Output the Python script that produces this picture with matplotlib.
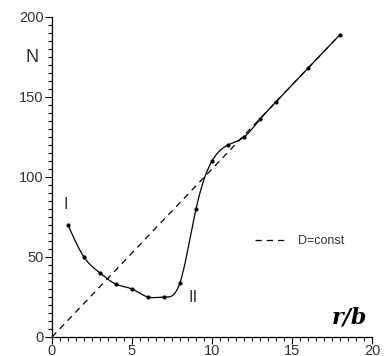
import numpy as np
import matplotlib
matplotlib.use("Agg")
import matplotlib.pyplot as plt
from matplotlib.ticker import MultipleLocator

# measured points
r_b = [1, 2, 3, 4, 5, 6, 7, 8, 9, 10, 11, 12, 13, 14, 16, 18]
n_vals = [70, 50, 40, 33, 30, 25, 25, 34, 80, 110, 120, 125, 136, 147, 168, 189]

# D=const reference line
const_x = [0, 18]
const_slope = 10.5


def natural_spline(x, y, num=400):
    # natural cubic spline through the points, only for drawing the smooth curve
    x = np.asarray(x, float)
    y = np.asarray(y, float)
    n = len(x)
    h = np.diff(x)
    A = np.zeros((n, n))
    b = np.zeros(n)
    A[0, 0] = 1
    A[-1, -1] = 1
    for i in range(1, n - 1):
        A[i, i - 1] = h[i - 1]
        A[i, i] = 2 * (h[i - 1] + h[i])
        A[i, i + 1] = h[i]
        b[i] = 3 * ((y[i + 1] - y[i]) / h[i] - (y[i] - y[i - 1]) / h[i - 1])
    c = np.linalg.solve(A, b)
    xs = np.linspace(x[0], x[-1], num)
    ys = np.empty_like(xs)
    for k, xv in enumerate(xs):
        i = min(np.searchsorted(x, xv, side="right") - 1, n - 2)
        dx = xv - x[i]
        bi = (y[i + 1] - y[i]) / h[i] - h[i] * (2 * c[i] + c[i + 1]) / 3
        di = (c[i + 1] - c[i]) / (3 * h[i])
        ys[k] = y[i] + bi * dx + c[i] * dx**2 + di * dx**3
    return xs, ys


plt.rcParams["font.family"] = ["Liberation Sans", "DejaVu Sans"]

fig = plt.figure(figsize=(3.84, 3.56), dpi=100)
ax = fig.add_axes([52 / 384, 1 - 337 / 356, 320 / 384, 320 / 356])

xs, ys = natural_spline(r_b, n_vals)
ax.plot(xs, ys, color="black", linewidth=0.9)
ax.plot(r_b, n_vals, linestyle="none", marker="o", markersize=2, color="black")

cx = np.array(const_x, float)
ax.plot(cx, const_slope * cx, color="black", linewidth=0.9,
        linestyle=(0, (5, 4)), label="D=const")

ax.set_xlim(0, 20)
ax.set_ylim(0, 200)
ax.xaxis.set_major_locator(MultipleLocator(5))
ax.xaxis.set_minor_locator(MultipleLocator(0.5))
ax.yaxis.set_major_locator(MultipleLocator(50))
ax.yaxis.set_minor_locator(MultipleLocator(5))
ax.tick_params(which="major", direction="out", length=5, width=0.8,
               labelsize=10.5, labelcolor="#333333", pad=1)
ax.tick_params(axis="x", which="major", pad=0)
ax.tick_params(which="minor", direction="out", length=3, width=0.8)
for side in ("top", "right"):
    ax.spines[side].set_visible(False)
for side in ("left", "bottom"):
    ax.spines[side].set_linewidth(0.9)

ax.text(0.7, 80, "I", fontsize=12, color="#333333")
ax.text(8.5, 22, "II", fontsize=12, color="#333333")
ax.text(-1.25, 175, "N", fontsize=13, color="#333333", ha="center", va="center")
ax.text(19.7, 12, "r/b", fontsize=16, family="DejaVu Serif", style="italic",
        weight="bold", ha="right", va="center")

ax.legend(loc="center left", bbox_to_anchor=(0.6, 0.3), frameon=False,
          fontsize=9, handlelength=2.6, handletextpad=0.8, labelcolor="#333333")

fig.savefig("out.png", dpi=100)
